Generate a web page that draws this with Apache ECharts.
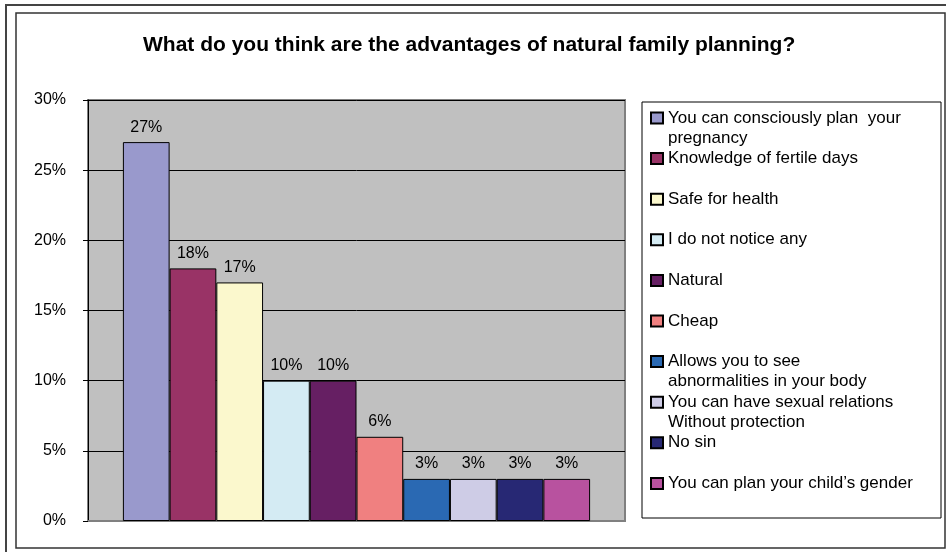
<!DOCTYPE html>
<html>
<head>
<meta charset="utf-8">
<script src="https://cdn.jsdelivr.net/npm/echarts@6/dist/echarts.min.js"></script>
<style>
  html, body { margin: 0; padding: 0; background: #fff; }
  #chart { width: 946px; height: 552px; }
</style>
</head>
<body>
<div id="chart"></div>
<script>
// answers and shares (%)
const answers = [
  'You can consciously plan  your\npregnancy',
  'Knowledge of fertile days',
  'Safe for health',
  'I do not notice any',
  'Natural',
  'Cheap',
  'Allows you to see\nabnormalities in your body',
  'You can have sexual relations\nWithout protection',
  'No sin',
  'You can plan your child\u2019s gender'
];
const shares = [27, 18, 17, 10, 10, 6, 3, 3, 3, 3];
const yTicks = [0, 5, 10, 15, 20, 25, 30];

const palette = ['#9999cc', '#993366', '#fbf8cd', '#d4ebf3', '#661f63',
  '#f08080', '#2a69b3', '#cecce6', '#272874', '#b8529f'];

const FONT = 'Liberation Sans, Arial, sans-serif';
const chart = echarts.init(document.getElementById('chart'));

// one legend per item so the rows keep Excel's even spacing;
// wrapped names get an empty rich line on top so the square sits on line one
const legends = answers.map((name, i) => {
  const lines = name.split('\n');
  const center = 119.5 + i * 40.6;
  return {
    data: [name],
    left: 650,
    top: center - (lines.length > 1 ? 30 : 10),
    padding: 0,
    icon: 'rect',
    itemWidth: 12,
    itemHeight: 11,
    itemGap: 0,
    selectedMode: false,
    formatter: () => lines.length > 1
      ? '{g| }\n' + lines.map(l => '{t|' + l + '}').join('\n')
      : '{t|' + name + '}',
    textStyle: {
      fontFamily: FONT,
      fontSize: 17,
      color: '#000',
      rich: {
        g: { fontSize: 17, lineHeight: 20, fontFamily: FONT },
        t: { fontSize: 17, lineHeight: 20, fontFamily: FONT, color: '#000' }
      }
    }
  };
});

const series = answers.map((name, i) => ({
  name: name,
  type: 'bar',
  data: [shares[i]],
  barGap: '0%',
  barCategoryGap: '13%',
  itemStyle: { color: palette[i], borderColor: '#000', borderWidth: 1 },
  label: {
    show: true,
    position: 'top',
    distance: 7,
    formatter: '{c}%',
    fontFamily: FONT,
    fontSize: 16,
    color: '#000'
  }
}));

const option = {
  animation: false,
  backgroundColor: '#fff',
  title: {
    text: 'What do you think are the advantages of natural family planning?',
    left: 143,
    top: 35,
    padding: 0,
    textStyle: { fontFamily: FONT, fontSize: 21, fontWeight: 'bold', color: '#000' }
  },
  legend: legends,
  grid: {
    left: 88, right: 321, top: 100, bottom: 31,
    show: true,
    backgroundColor: '#c0c0c0',
    borderColor: '#808080',
    borderWidth: 2
  },
  xAxis: {
    type: 'category',
    data: [''],
    axisLine: { lineStyle: { color: '#808080', width: 2 } },
    axisTick: { show: false },
    axisLabel: { show: false }
  },
  yAxis: {
    type: 'value',
    min: yTicks[0],
    max: yTicks[yTicks.length - 1],
    interval: yTicks[1] - yTicks[0],
    axisLine: { show: true, lineStyle: { color: '#000', width: 1 } },
    axisTick: { show: true, length: 5, lineStyle: { color: '#000' } },
    axisLabel: {
      formatter: '{value}%',
      margin: 22,
      fontFamily: FONT,
      fontSize: 16,
      color: '#000'
    },
    splitLine: { lineStyle: { color: '#000', width: 1 } }
  },
  graphic: [
    {
      type: 'polyline',
      shape: { points: [[6, 552], [6, 5], [946, 5]] },
      style: { stroke: '#444', lineWidth: 2, fill: null },
      silent: true
    },
    {
      type: 'rect',
      shape: { x: 16, y: 13, width: 929, height: 535 },
      style: { stroke: '#333', lineWidth: 1.5, fill: null },
      silent: true
    },
    {
      type: 'rect',
      shape: { x: 642, y: 102, width: 299, height: 416 },
      style: { stroke: '#000', lineWidth: 1, fill: '#fff' },
      z: -1,
      silent: true
    }
  ],
  series: series
};

chart.setOption(option);
</script>
</body>
</html>
